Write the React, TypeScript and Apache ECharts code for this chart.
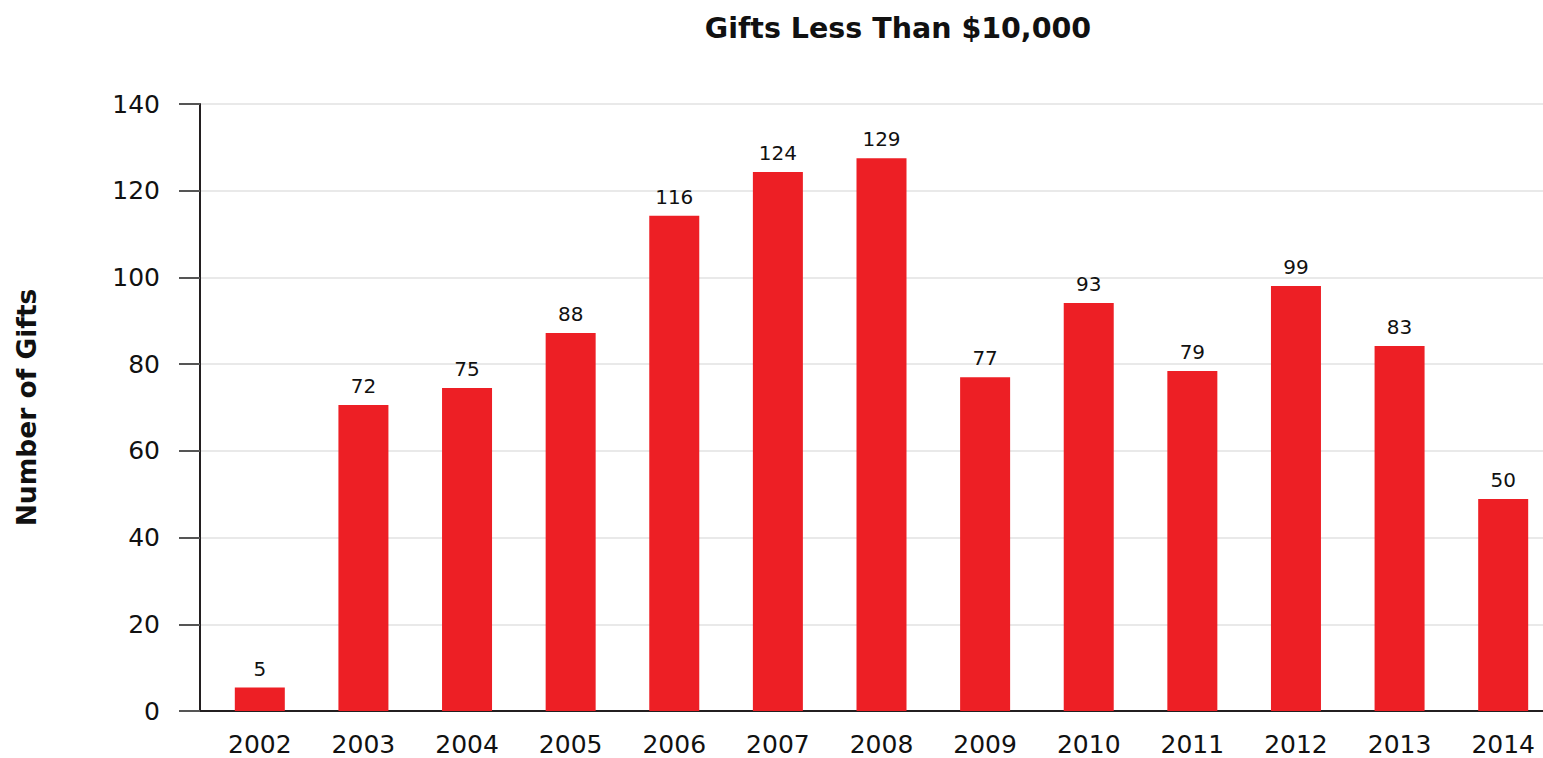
import React, { useEffect, useRef } from "react";
import * as echarts from "echarts";

const years = ["2002","2003","2004","2005","2006","2007","2008","2009","2010","2011","2012","2013","2014"];
const barHeights = [5.4, 70.6, 74.5, 87.2, 114.2, 124.3, 127.5, 77.0, 94.1, 78.4, 98.0, 84.2, 48.9];
const labelValues = [5, 72, 75, 88, 116, 124, 129, 77, 93, 79, 99, 83, 50];
const yTicks = [0, 20, 40, 60, 80, 100, 120, 140];

const FONT = "DejaVu Sans";

export default function App() {
  const ref = useRef<HTMLDivElement>(null);
  useEffect(() => {
    if (!ref.current) return;
    const chart = echarts.init(ref.current, null, { renderer: "svg" });
    chart.setOption({
      animation: false,
      backgroundColor: "#ffffff",
      title: {
        text: "Gifts Less Than $10,000",
        left: 893,
        textAlign: "center",
        top: 9,
        textStyle: { fontFamily: FONT, fontWeight: "bold", fontSize: 28.5, color: "#111" },
      },
      grid: [
        { left: 200, right: 12, top: 104, bottom: 47 },
        { left: 208, right: 0, top: 104, bottom: 47 },
      ],
      xAxis: [
        {
          gridIndex: 0,
          type: "value",
          min: 0,
          max: 1,
          axisLine: { show: true, onZero: false, lineStyle: { color: "#231f20", width: 2 } },
          axisTick: { show: false },
          axisLabel: { show: false },
          splitLine: { show: false },
        },
        {
          gridIndex: 1,
          type: "category",
          data: years,
          axisLine: { show: false },
          axisTick: { show: false },
          axisLabel: { margin: 21, fontFamily: FONT, fontSize: 25, color: "#111" },
        },
      ],
      yAxis: [
        {
          gridIndex: 0,
          type: "value",
          min: yTicks[0],
          max: yTicks[yTicks.length - 1],
          interval: 20,
          name: "Number of Gifts",
          nameLocation: "middle",
          nameGap: 160,
          nameTextStyle: { fontFamily: FONT, fontWeight: "bold", fontSize: 26.5, color: "#111" },
          axisLine: { show: true, lineStyle: { color: "#231f20", width: 2 } },
          axisTick: { show: true, length: 21, lineStyle: { color: "#555", width: 2 } },
          axisLabel: { margin: 40, fontFamily: FONT, fontSize: 25, color: "#111" },
          splitLine: { show: true, lineStyle: { color: "#e2e2e2", width: 1.5 } },
        },
        {
          gridIndex: 1,
          type: "value",
          min: 0,
          max: 140,
          show: false,
          splitLine: { show: false },
        },
      ],
      series: [
        {
          type: "bar",
          xAxisIndex: 1,
          yAxisIndex: 1,
          data: barHeights,
          barWidth: 50,
          itemStyle: { color: "#ed1f25" },
          label: {
            show: true,
            position: "top",
            distance: 9,
            fontFamily: FONT,
            fontSize: 20,
            color: "#111",
            formatter: (p: any) => String(labelValues[p.dataIndex]),
          },
        },
      ],
    });
    return () => chart.dispose();
  }, []);
  return (
    <div style={{ position: "absolute", left: 0, top: 0, width: 1543, height: 758, overflow: "hidden" }}>
      <div ref={ref} style={{ width: 1555, height: 758 }} />
    </div>
  );
}
